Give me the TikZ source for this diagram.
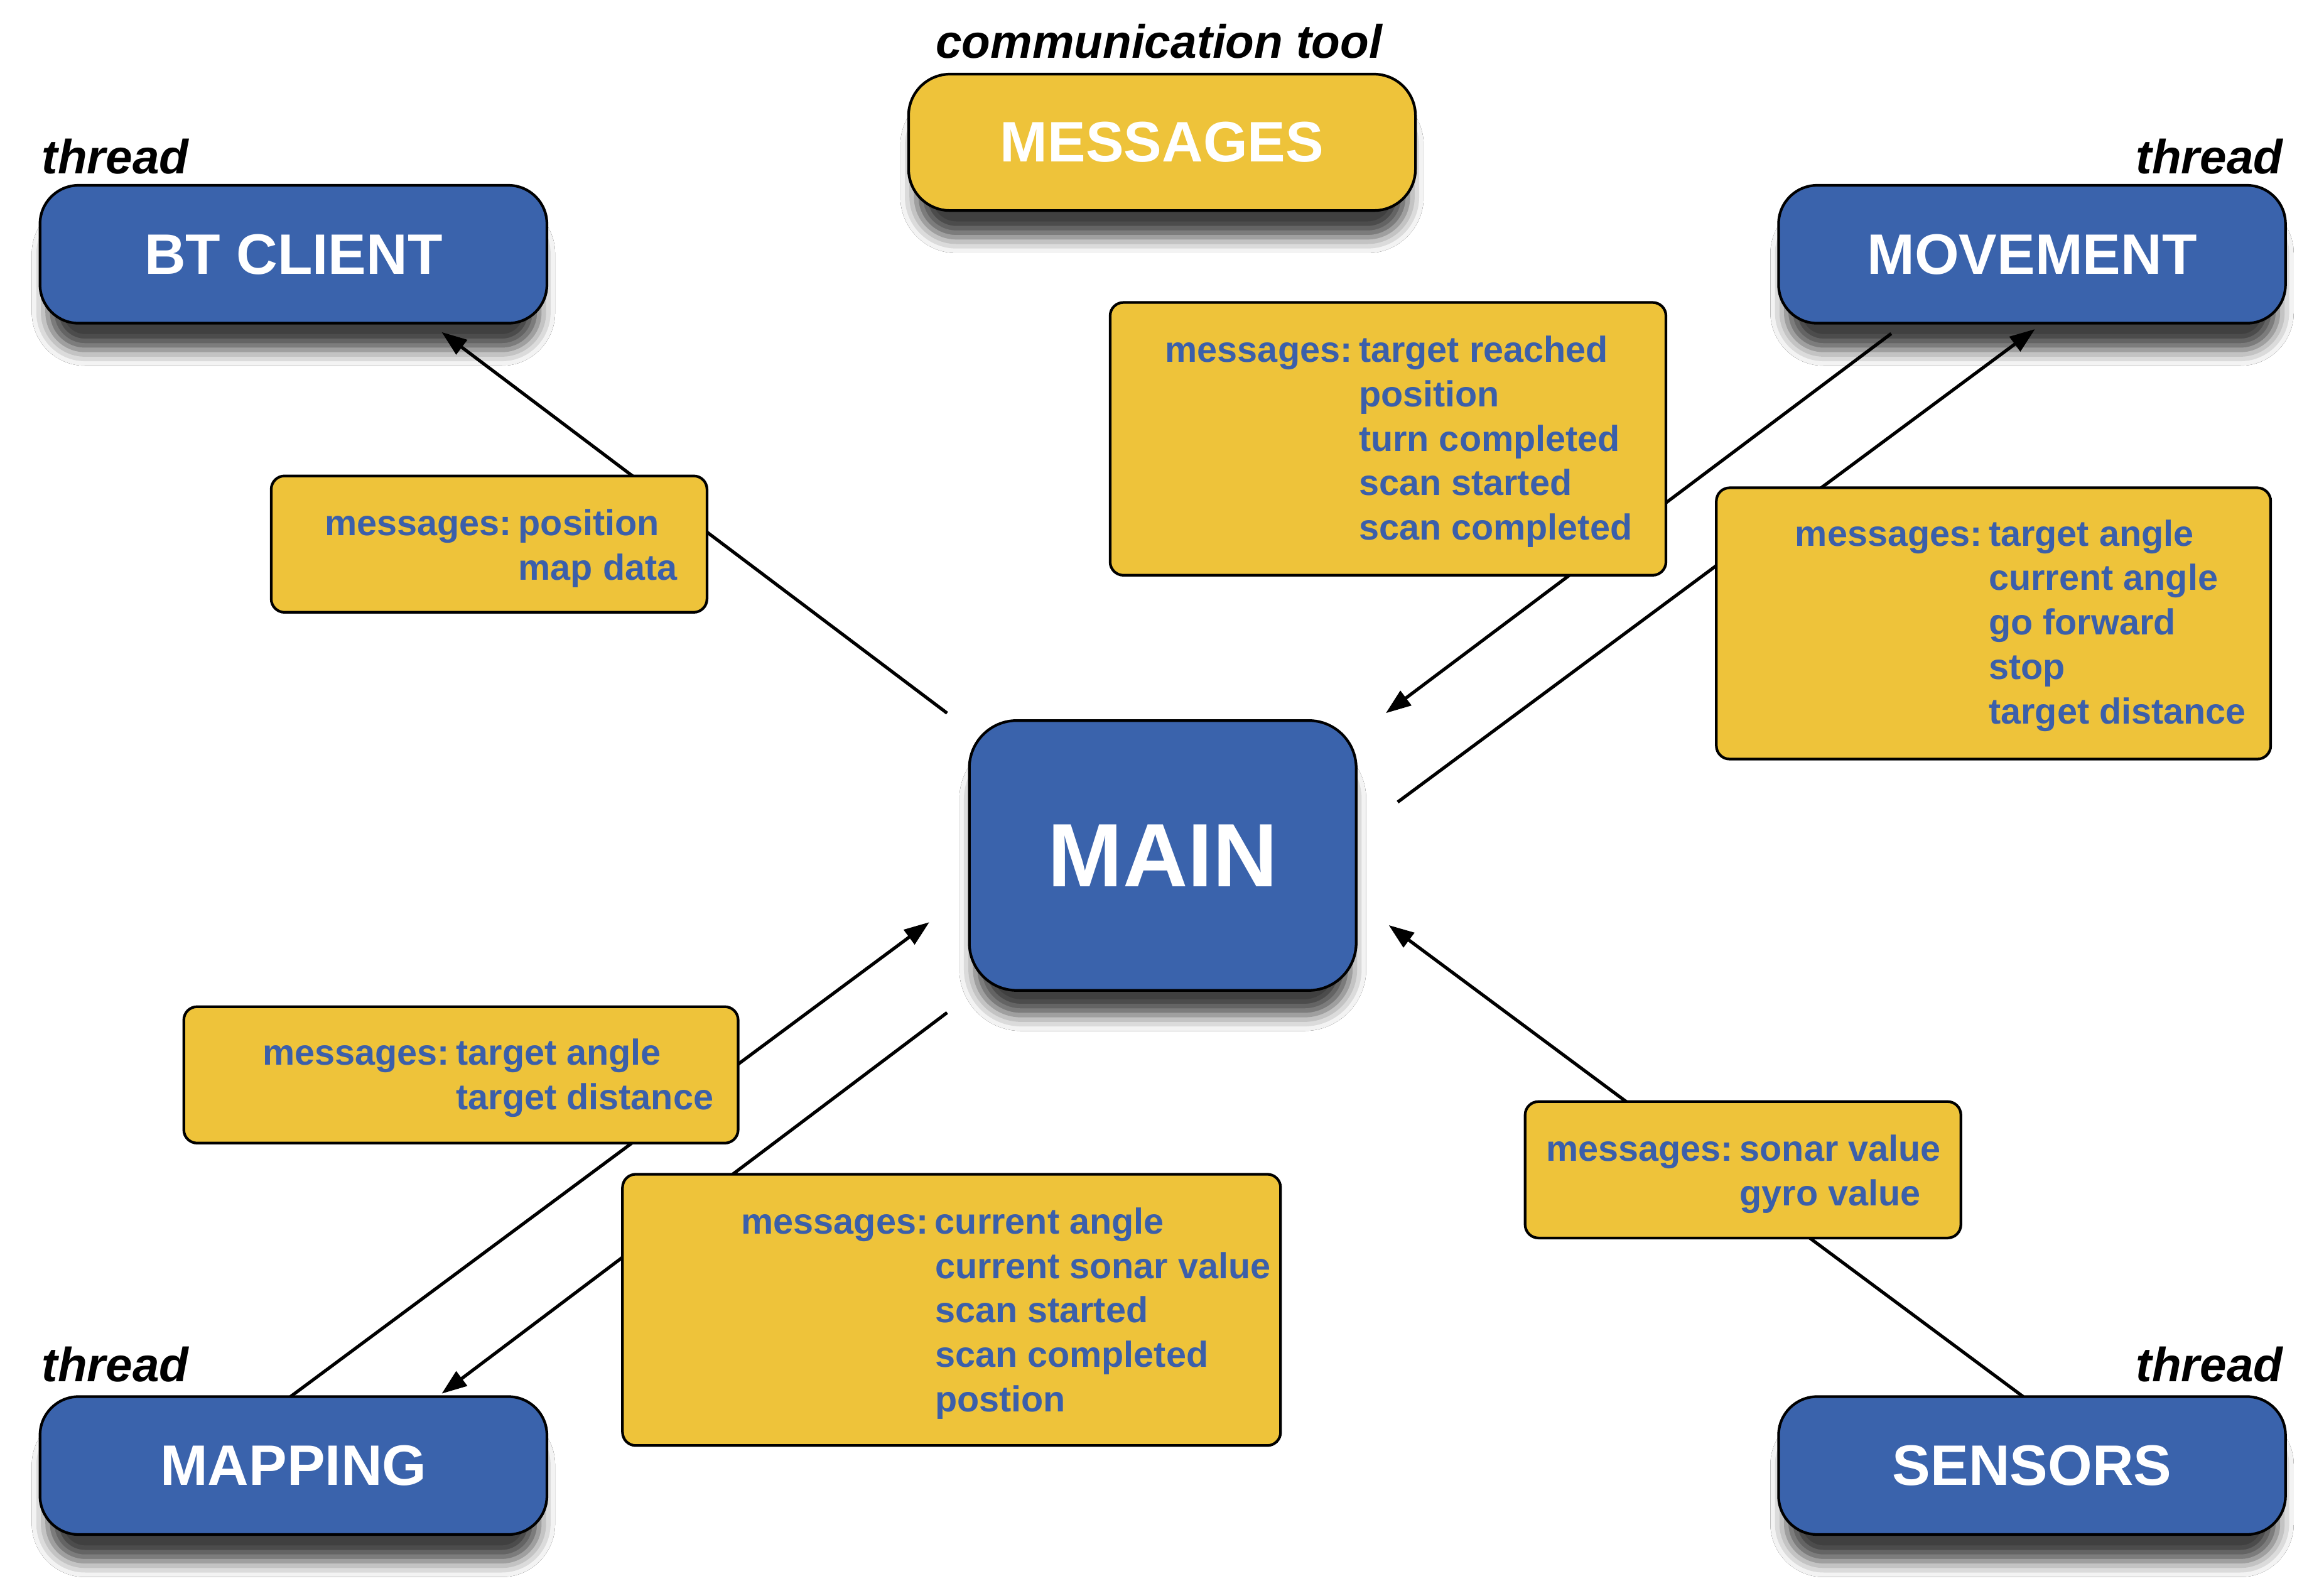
\documentclass[tikz,border=0pt]{standalone}
\usepackage{fontspec}
\setmainfont{Liberation Sans}
\usetikzlibrary{shadows.blur, arrows.meta, calc}
\definecolor{nodeblue}{HTML}{3A63AC}
\definecolor{nodeyellow}{HTML}{EEC33A}
\definecolor{textblue}{HTML}{3B5FAA}
\newcommand{\msghead}{messages:\hspace{4.5pt}}
\newcommand{\msgind}{\phantom{messages:}\hspace{4.5pt}}
\begin{document}
\begin{tikzpicture}[x=1pt,y=-1pt,
  shadowed/.style={blur shadow={shadow xshift=0pt, shadow yshift=-20pt, shadow scale=0.97, shadow blur radius=11pt, shadow opacity=75}},
  threadbox/.style={shadowed, draw=black, line width=1.8pt, fill=nodeblue, rounded corners=26pt,
    text=white, font=\fontsize{38.5}{40}\selectfont\bfseries,
    minimum width=342pt, minimum height=93pt, inner sep=0pt},
  toolbox/.style={threadbox, fill=nodeyellow, minimum height=92pt, rounded corners=28pt},
  mainnode/.style={threadbox, minimum width=261pt, minimum height=182pt, rounded corners=32pt,
    font=\fontsize{60.7}{62}\selectfont\bfseries},
  threadlbl/.style={font=\fontsize{32.4}{34}\selectfont\bfseries\itshape, inner sep=0pt, anchor=base west},
  lbl/.style={draw=black, line width=1.8pt, fill=nodeyellow, rounded corners=9pt, inner sep=0pt},
  msgtext/.style={text=textblue, font=\fontsize{24.4}{30}\selectfont\bfseries, align=left, inner sep=0pt, anchor=north west},
  conn/.style={line width=2.2pt, -{Triangle[length=17pt,width=12pt]}}
]
\fill[white] (0,0) rectangle (1568,1066);
\useasboundingbox (0,0) rectangle (1568,1066);

% titles
\node[font=\fontsize{31.7}{34}\selectfont\bfseries\itshape, inner sep=0pt, anchor=base] (comm) at (782,39) {communication tool};
\node[threadlbl] (th1) at (28,117) {thread};
\node[threadlbl] (th2) at (1441,117) {thread};
\node[threadlbl] (th3) at (28,932) {thread};
\node[threadlbl] (th4) at (1441,932) {thread};

% main boxes
\node[toolbox] (msgs) at (784,96) {MESSAGES};
\node[threadbox] (bt) at (198,171.5) {BT CLIENT};
\node[threadbox] (mov) at (1371,171.5) {MOVEMENT};
\node[threadbox] (map) at (198,988.5) {MAPPING};
\node[threadbox] (sens) at (1371,988.5) {SENSORS};
\node[mainnode] (main) at (784.5,577) {MAIN};

% connector ends
\coordinate (a1s) at (639,481);  \coordinate (a1e) at (298,224);
\coordinate (a2s) at (1276,225); \coordinate (a2e) at (935,481);
\coordinate (a3s) at (943,541);  \coordinate (a3e) at (1373,222);
\coordinate (a4s) at (196,942);  \coordinate (a4e) at (627,622);
\coordinate (a5s) at (639,683);  \coordinate (a5e) at (298,940);
\coordinate (a6s) at (1365,942); \coordinate (a6e) at (937,624);

\draw[conn] (a1s) -- (a1e);
\draw[conn] (a2s) -- (a2e);
\draw[conn] (a3s) -- (a3e);
\draw[conn] (a4s) -- (a4e);
\draw[conn] (a5s) -- (a5e);
\draw[conn] (a6s) -- (a6e);

% label boxes
\node[lbl, minimum width=294pt, minimum height=92pt] (l1) at (330,367) {};
\node[lbl, minimum width=375pt, minimum height=184pt] (l2) at (936.5,296) {};
\node[lbl, minimum width=374pt, minimum height=183pt] (l3) at (1345,420.5) {};
\node[lbl, minimum width=374pt, minimum height=92pt] (l4) at (311,725) {};
\node[lbl, minimum width=444pt, minimum height=183pt] (l5) at (642,883.5) {};
\node[lbl, minimum width=294pt, minimum height=92pt] (l6) at (1176,789) {};

\node[msgtext] (t1) at (219,340) {\strut\msghead position\\\msgind map data};
\node[msgtext] (t2) at (786,223) {\strut\msghead target reached\\\msgind position\\\msgind turn completed\\\msgind scan started\\\msgind scan completed};
\node[msgtext] (t3) at (1211,347) {\strut\msghead target angle\\\msgind current angle\\\msgind go forward\\\msgind stop\\\msgind target distance};
\node[msgtext] (t4) at (177,697) {\strut\msghead target angle\\\msgind target distance};
\node[msgtext] (t5) at (500,811) {\strut\msghead current angle\\\msgind current sonar value\\\msgind scan started\\\msgind scan completed\\\msgind postion};
\node[msgtext] (t6) at (1043,762) {\strut\msghead sonar value\\\msgind gyro value};
\end{tikzpicture}
\end{document}
